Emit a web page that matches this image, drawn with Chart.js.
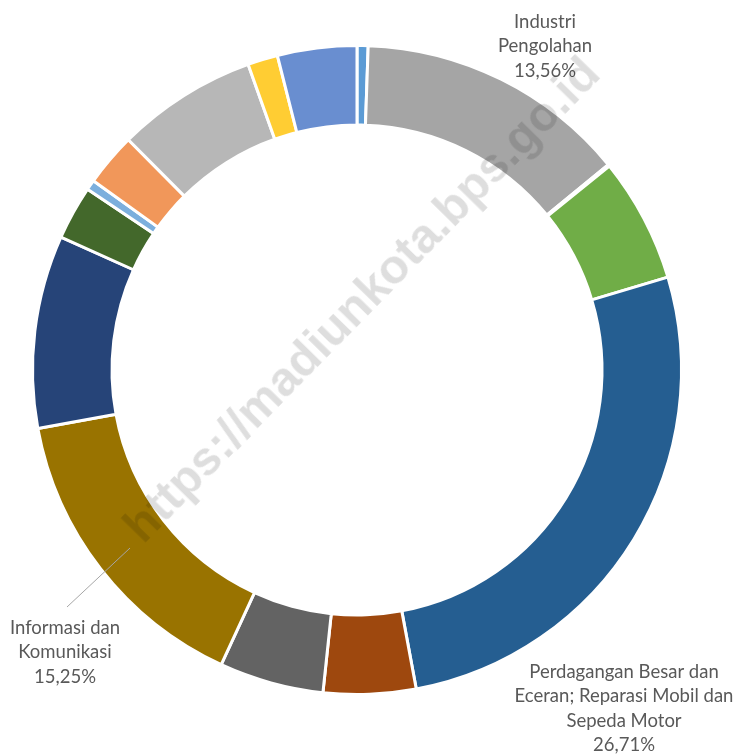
<!DOCTYPE html>
<html>
<head>
<meta charset="utf-8">
<script src="https://cdn.jsdelivr.net/npm/chart.js@4.4.1/dist/chart.umd.min.js"></script>
<style>
  html, body { margin: 0; padding: 0; background: #fff; }
  #wrap { position: relative; width: 733px; height: 755px; overflow: hidden; }
  #wm {
    position: absolute; left: 361px; top: 299px;
    transform: translate(-50%, -50%) rotate(-45.6deg);
    font-family: "Liberation Sans", Arial, sans-serif; font-weight: bold;
    font-size: 48px; color: rgba(0,0,0,0.13); white-space: nowrap;
    pointer-events: none;
  }
</style>
</head>
<body>
<div id="wrap">
  <canvas id="grafik" width="733" height="755"></canvas>
  <div id="wm">https://madiunkota.bps.go.id</div>
</div>
<script>
// urutan searah jarum jam mulai dari atas
const kategori = [
  "Sektor 1", "Industri Pengolahan", "Sektor 3", "Sektor 4",
  "Perdagangan Besar dan Eceran; Reparasi Mobil dan Sepeda Motor",
  "Sektor 6", "Sektor 7", "Informasi dan Komunikasi", "Sektor 9",
  "Sektor 10", "Sektor 11", "Sektor 12", "Sektor 13", "Sektor 14", "Sektor 15"
];
const nilai = [0.55, 13.56, 0.08, 6.2, 26.71, 4.6, 5.2, 15.25, 9.6, 2.7, 0.5, 2.65, 7.0, 1.5, 3.95];
const warna = ["#5B9BD5", "#A5A5A5", "#4472C4", "#70AD47", "#255E91", "#9E480E", "#636363",
  "#997300", "#264478", "#43682B", "#7CAFDD", "#F1975A", "#B7B7B7", "#FFCD33", "#698ED0"];

// label yang ditampilkan
const label = [
  { baris: ["Industri", "Pengolahan", "13,56%"], x: 545, y: 22 },
  { baris: ["Perdagangan Besar dan", "Eceran; Reparasi Mobil dan", "Sepeda Motor", "26,71%"], x: 624, y: 672 },
  { baris: ["Informasi dan", "Komunikasi", "15,25%"], x: 65, y: 628 }
];

const labelPlugin = {
  id: "labelPlugin",
  afterDraw(chart) {
    const ctx = chart.ctx;
    ctx.save();
    // garis penunjuk Informasi
    ctx.strokeStyle = "#a6a6a6";
    ctx.lineWidth = 1;
    ctx.beginPath();
    ctx.moveTo(130, 548);
    ctx.lineTo(67, 607);
    ctx.stroke();

    ctx.fillStyle = "#595959";
    ctx.font = "18.5px Lato, 'Open Sans', sans-serif";
    ctx.textAlign = "center";
    ctx.textBaseline = "middle";
    label.forEach(l => {
      l.baris.forEach((t, i) => ctx.fillText(t, l.x, l.y + i * 24.5));
    });
    ctx.restore();
  }
};

new Chart(document.getElementById("grafik"), {
  type: "doughnut",
  data: {
    labels: kategori,
    datasets: [{
      data: nilai,
      backgroundColor: warna,
      borderColor: "#ffffff",
      borderWidth: 3
    }]
  },
  options: {
    responsive: false,
    animation: false,
    cutout: "75.5%",
    layout: { padding: { left: 31, right: 50, top: 44, bottom: 59 } },
    plugins: {
      legend: { display: false },
      tooltip: { enabled: false }
    }
  },
  plugins: [labelPlugin]
});
</script>
</body>
</html>
